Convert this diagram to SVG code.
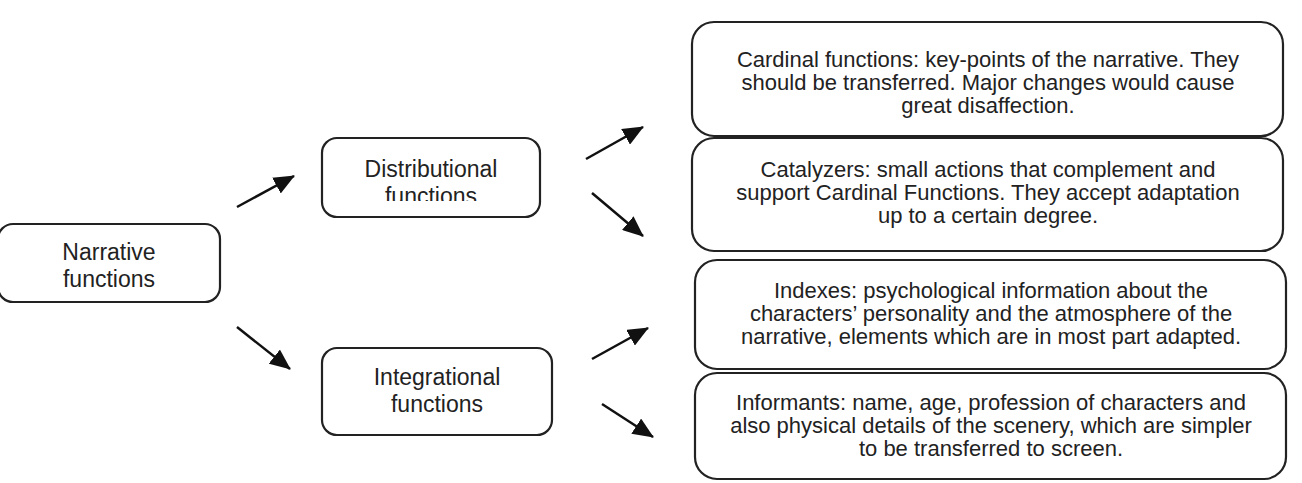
<svg xmlns="http://www.w3.org/2000/svg" width="1302" height="483" viewBox="0 0 1302 483">
<style>
.box{fill:#fff;stroke:#222;stroke-width:2.2}
.big{font-family:"Liberation Sans",Arial,sans-serif;font-size:23px;fill:#222;text-anchor:middle}
.txt{font-family:"Liberation Sans",Arial,sans-serif;font-size:22px;fill:#222;text-anchor:middle}
.arr{stroke:#111;stroke-width:2.5;fill:none;marker-end:url(#ah)}
</style>
<defs>
<marker id="ah" markerUnits="userSpaceOnUse" markerWidth="21" markerHeight="18" viewBox="0 0 21 18" refX="20" refY="9" orient="auto">
<path d="M0,0 L21,9 L0,18 z" fill="#111"/>
</marker>
<clipPath id="clipD"><rect x="322" y="138" width="218" height="63"/></clipPath>
</defs>
<rect width="1302" height="483" fill="#fff"/>
<g id="narrative">
<rect class="box" x="-2" y="224" width="222" height="78" rx="15"/>
<text class="big" x="109" y="260">Narrative</text>
<text class="big" x="109" y="287">functions</text>
</g>
<g id="distributional">
<rect class="box" x="322" y="138" width="218" height="79" rx="15"/>
<g clip-path="url(#clipD)">
<text class="big" x="431" y="177">Distributional</text>
<text class="big" x="431" y="204">functions</text>
</g>
</g>
<g id="integrational">
<rect class="box" x="322" y="348" width="230" height="87" rx="15"/>
<text class="big" x="437" y="385">Integrational</text>
<text class="big" x="437" y="412">functions</text>
</g>
<g id="cardinal">
<rect class="box" x="692" y="22" width="591" height="114" rx="22"/>
<text class="txt" x="988" y="67">Cardinal functions: key-points of the narrative. They</text>
<text class="txt" x="988" y="90">should be transferred. Major changes would cause</text>
<text class="txt" x="988" y="113">great disaffection.</text>
</g>
<g id="catalyzers">
<rect class="box" x="692" y="138" width="591" height="113" rx="22"/>
<text class="txt" x="988" y="177">Catalyzers: small actions that complement and</text>
<text class="txt" x="988" y="200">support Cardinal Functions. They accept adaptation</text>
<text class="txt" x="988" y="223">up to a certain degree.</text>
</g>
<g id="indexes">
<rect class="box" x="695" y="260" width="591" height="109" rx="22"/>
<text class="txt" x="991" y="298">Indexes: psychological information about the</text>
<text class="txt" x="991" y="321">characters’ personality and the atmosphere of the</text>
<text class="txt" x="991" y="344">narrative, elements which are in most part adapted.</text>
</g>
<g id="informants">
<rect class="box" x="695" y="373" width="591" height="106" rx="22"/>
<text class="txt" x="991" y="410">Informants: name, age, profession of characters and</text>
<text class="txt" x="991" y="433">also physical details of the scenery, which are simpler</text>
<text class="txt" x="991" y="456">to be transferred to screen.</text>
</g>
<g id="connectors">
<line class="arr" x1="237" y1="207" x2="294" y2="176"/>
<line class="arr" x1="237" y1="327" x2="290" y2="369"/>
<line class="arr" x1="586" y1="159" x2="643" y2="127"/>
<line class="arr" x1="592" y1="193" x2="643" y2="236"/>
<line class="arr" x1="592" y1="359" x2="648" y2="328"/>
<line class="arr" x1="602" y1="404" x2="653" y2="437"/>
</g>
</svg>
